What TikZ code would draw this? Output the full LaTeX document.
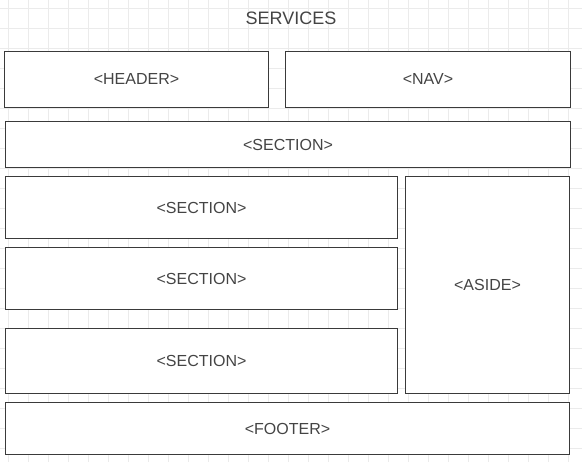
\documentclass[tikz,border=0pt]{standalone}
\usepackage{fontspec}
\setmainfont{Liberation Sans}
\definecolor{gridc}{HTML}{EBEBEB}
\definecolor{boxc}{HTML}{3A3A3A}
\definecolor{txtc}{HTML}{444444}
\begin{document}
\begin{tikzpicture}[x=1pt,y=-1pt,
  blk/.style={draw=boxc,line width=1.2pt,fill=white,text=txtc,font=\fontsize{16}{19}\selectfont},
  ttl/.style={text=txtc,font=\fontsize{18}{21}\selectfont,inner sep=0pt}]
\useasboundingbox (0,0) rectangle (582,462);
\fill[white] (0,0) rectangle (582,462);
\foreach \i in {0,...,28} {\draw[gridc,line width=0.9pt] (8.3+20*\i,0) -- (8.3+20*\i,462);}
\foreach \j in {0,...,22} {\draw[gridc,line width=0.9pt] (0,8.3+20*\j) -- (582,8.3+20*\j);}
\node[ttl] (title) at (291,18) {SERVICES};
\draw[blk] (4.5,51.5) rectangle node (header) {<HEADER>} (268.5,107.5);
\draw[blk] (285.5,51.5) rectangle node (nav) {<NAV>} (570.5,107.5);
\draw[blk] (5.5,121.5) rectangle node (sec0) {<SECTION>} (570.5,167.5);
\draw[blk] (5.5,176.5) rectangle node (sec1) {<SECTION>} (397.5,238.5);
\draw[blk] (5.5,247.5) rectangle node (sec2) {<SECTION>} (397.5,309.5);
\draw[blk] (5.5,328.5) rectangle node (sec3) {<SECTION>} (397.5,393.5);
\draw[blk] (405.5,176.5) rectangle node (aside) {<ASIDE>} (569.5,393.5);
\draw[blk] (5.5,402.5) rectangle node (footer) {<FOOTER>} (569.5,454.5);
\end{tikzpicture}
\end{document}
